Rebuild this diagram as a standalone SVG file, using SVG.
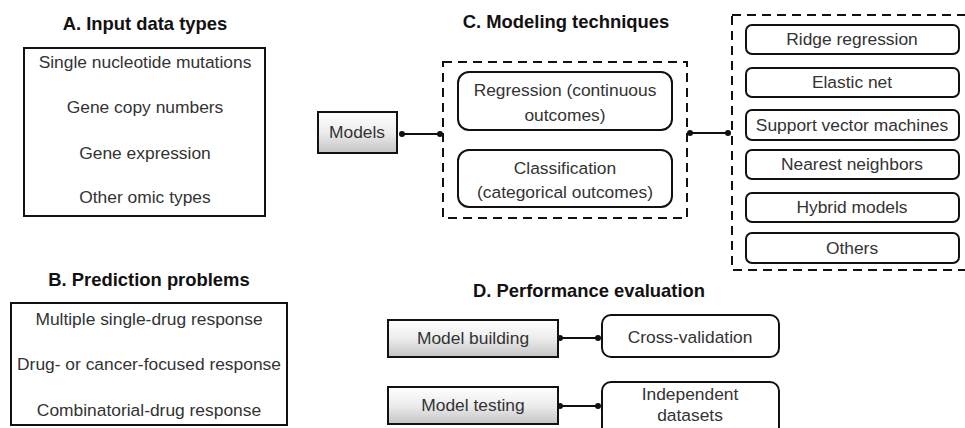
<svg xmlns="http://www.w3.org/2000/svg" width="965" height="428" viewBox="0 0 965 428">
<defs>
<linearGradient id="g" x1="0" y1="0" x2="0" y2="1">
<stop offset="0" stop-color="#ffffff"/>
<stop offset="0.5" stop-color="#ececec"/>
<stop offset="1" stop-color="#c4c4c4"/>
</linearGradient>
<style>
text{font-family:"Liberation Sans",Arial,sans-serif;fill:#333;text-anchor:middle;font-size:17.4px}
.t{font-weight:bold;font-size:18.4px;fill:#111}
.box{fill:#fff;stroke:#111;stroke-width:2}
.rb{fill:#fff;stroke:#111;stroke-width:2}
.gb{fill:url(#g);stroke:#111;stroke-width:2}
.dash{fill:none;stroke:#111;stroke-width:2;stroke-dasharray:9,6}
.ln{stroke:#111;stroke-width:2;fill:none}
.dot{fill:#111}
</style>
</defs>
<rect width="965" height="428" fill="#fff"/>

<g id="sectionA">
<text class="t" x="145" y="30">A. Input data types</text>
<rect class="box" x="24" y="48" width="241" height="168"/>
<text x="145" y="68">Single nucleotide mutations</text>
<text x="145" y="113">Gene copy numbers</text>
<text x="145" y="159">Gene expression</text>
<text x="145" y="203">Other omic types</text>
</g>

<g id="sectionB">
<text class="t" x="149" y="286">B. Prediction problems</text>
<rect class="box" x="11" y="303" width="276" height="122"/>
<text x="149" y="325">Multiple single-drug response</text>
<text x="149" y="370">Drug- or cancer-focused response</text>
<text x="149" y="416">Combinatorial-drug response</text>
</g>

<g id="titleC">
<text class="t" x="566" y="28">C. Modeling techniques</text>
</g>

<g id="models">
<rect class="gb" x="318" y="112" width="79" height="41"/>
<text x="357" y="138">Models</text>
</g>

<g id="groupC1">
<rect class="dash" x="443" y="62" width="244" height="156"/>
</g>
<g id="regression">
<rect class="rb" x="458" y="72" width="214" height="58" rx="11"/>
<text x="565" y="96">Regression (continuous</text>
<text x="565" y="121">outcomes)</text>
</g>
<g id="classification">
<rect class="rb" x="458" y="150" width="214" height="57" rx="11"/>
<text x="565" y="174">Classification</text>
<text x="565" y="198">(categorical outcomes)</text>
</g>

<g id="groupC2">
<rect class="dash" x="732" y="15" width="245" height="255"/>
</g>
<g id="ridge"><rect class="rb" x="746" y="25" width="213" height="29" rx="6"/><text x="852" y="45">Ridge regression</text></g>
<g id="elastic"><rect class="rb" x="746" y="68" width="213" height="29" rx="6"/><text x="852" y="88">Elastic net</text></g>
<g id="svm"><rect class="rb" x="746" y="110" width="213" height="30" rx="6"/><text x="852" y="131">Support vector machines</text></g>
<g id="nn"><rect class="rb" x="746" y="150" width="213" height="29" rx="6"/><text x="852" y="170">Nearest neighbors</text></g>
<g id="hybrid"><rect class="rb" x="746" y="193" width="213" height="29" rx="6"/><text x="852" y="213">Hybrid models</text></g>
<g id="others"><rect class="rb" x="746" y="233" width="213" height="30" rx="6"/><text x="852" y="254">Others</text></g>

<g id="titleD">
<text class="t" x="589" y="297">D. Performance evaluation</text>
</g>
<g id="modelBuilding">
<rect class="gb" x="388" y="320" width="170" height="37"/>
<text x="473" y="344">Model building</text>
</g>
<g id="crossValidation">
<rect class="rb" x="602" y="315" width="177" height="42" rx="9"/>
<text x="690" y="343">Cross-validation</text>
</g>
<g id="modelTesting">
<rect class="gb" x="388" y="387" width="170" height="37"/>
<text x="473" y="411">Model testing</text>
</g>
<g id="independent">
<rect class="rb" x="602" y="382" width="177" height="56" rx="9"/>
<text x="690" y="400">Independent</text>
<text x="690" y="421">datasets</text>
</g>

<g id="connectors">
<line class="ln" x1="402" y1="134" x2="440" y2="134"/>
<circle class="dot" cx="402" cy="134" r="3"/>
<circle class="dot" cx="440" cy="134" r="3"/>
<line class="ln" x1="690" y1="133" x2="728" y2="133"/>
<circle class="dot" cx="690" cy="133" r="3"/>
<circle class="dot" cx="728" cy="133" r="3"/>
<line class="ln" x1="560" y1="338" x2="598" y2="338"/>
<circle class="dot" cx="560" cy="338" r="3"/>
<circle class="dot" cx="598" cy="338" r="3"/>
<line class="ln" x1="560" y1="406" x2="598" y2="406"/>
<circle class="dot" cx="560" cy="406" r="3"/>
<circle class="dot" cx="598" cy="406" r="3"/>
</g>
</svg>
